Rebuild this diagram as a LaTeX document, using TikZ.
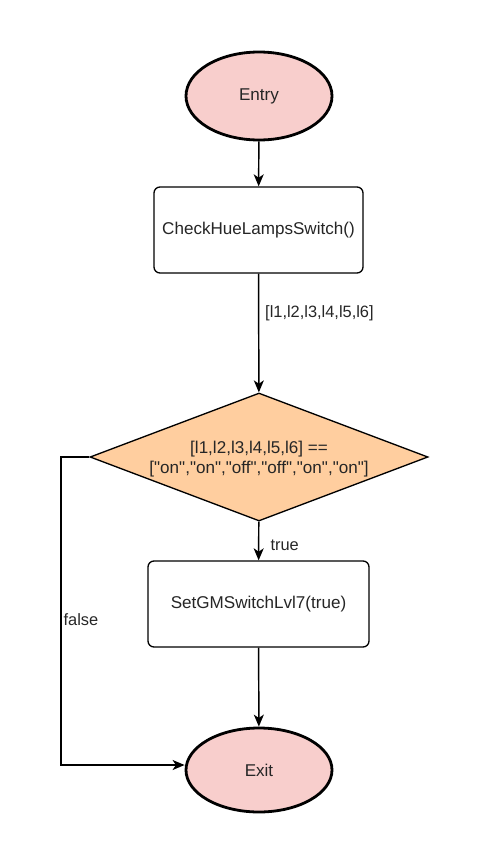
\documentclass[tikz,border=0pt]{standalone}
\usepackage{fontspec}
\setmainfont{Liberation Sans}[Ligatures=TeXOff]
\usetikzlibrary{shapes.geometric,arrows.meta}
\definecolor{termfill}{HTML}{F8CECC}
\definecolor{decfill}{HTML}{FFCE9F}
\begin{document}
\begin{tikzpicture}[x=0.75pt,y=-0.75pt,
  every node/.style={font=\fontsize{12.8pt}{15.5pt}\selectfont, text=black!85},
  term/.style={ellipse, draw=black, line width=2.1pt, fill=termfill, inner sep=0pt},
  proc/.style={rectangle, rounded corners=4.5pt, draw=black, line width=1pt, fill=white, inner sep=0pt},
  dec/.style={diamond, draw=black, line width=1pt, fill=decfill, inner sep=0pt, aspect=2.64},
  conn/.style={draw=black, line width=1.1pt, -{Stealth[length=9pt,width=7.5pt,inset=2.5pt]}},
  lbl/.style={fill=none, font=\fontsize{12.3pt}{15pt}\selectfont}
]
\useasboundingbox (0,0) rectangle (478,864);
\node[term, minimum width=109.5pt, minimum height=66pt] (entry) at (259,96) {Entry};
\node[proc, minimum width=156.75pt, minimum height=64.5pt] (check) at (258.5,230) {CheckHueLampsSwitch()};
\node[dec, minimum width=253.5pt, minimum height=96pt] (cond) at (259,457) {};
\node[align=center] (condtxt) at (259,459) {{[l1,l2,l3,l4,l5,l6] ==}\\{["on","on","off","off","on","on"]}};
\node[proc, minimum width=165.75pt, minimum height=64.5pt] (set) at (258.5,604) {SetGMSwitchLvl7(true)};
\node[term, minimum width=109.5pt, minimum height=63pt] (exit) at (259,770) {Exit};
\coordinate (fa) at (61,457);
\coordinate (fb) at (61,765);
\draw[conn] (entry) -- (check);
\draw[conn] (check) -- node[lbl, right, pos=0.33, xshift=1pt] (l1) {[l1,l2,l3,l4,l5,l6]} (cond);
\draw[conn] (cond) -- node[lbl, right, pos=0.6, xshift=5pt] (l2) {true} (set);
\draw[conn] (set) -- (exit);
\draw[conn] (cond.west) -- (fa) -- (fb) -- (exit.west |- fb);
\node[lbl] (l3) at (81,620) {false};
\end{tikzpicture}
\end{document}
